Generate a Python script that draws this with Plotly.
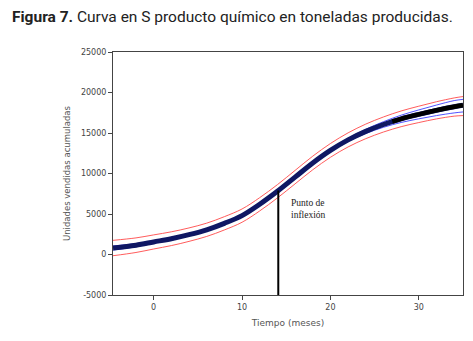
import plotly.graph_objects as go

# Data
months = [-4.6, -2, 0, 2, 4, 6, 8, 10, 12, 14, 16, 18, 20, 22, 24, 26, 28, 30, 32, 34, 35]
fit = [800, 1150, 1550, 1950, 2450, 3050, 3850, 4800, 6200, 7800, 9550, 11300, 12850, 14150, 15200, 16050, 16750, 17300, 17800, 18250, 18440]
pred_hi = [1750, 2050, 2420, 2800, 3280, 3870, 4670, 5620, 7020, 8620, 10380, 12140, 13700, 15020, 16100, 16980, 17720, 18310, 18860, 19330, 19500]
pred_lo = [-150, 250, 680, 1100, 1620, 2230, 3030, 3980, 5380, 6980, 8720, 10460, 12000, 13280, 14300, 15120, 15780, 16290, 16740, 17080, 17150]
ci_hi = [1050, 1350, 1710, 2090, 2580, 3180, 3980, 4930, 6330, 7930, 9680, 11440, 13010, 14350, 15460, 16400, 17200, 17850, 18450, 19000, 19150]
ci_lo = [550, 950, 1390, 1810, 2320, 2920, 3720, 4670, 6070, 7670, 9420, 11160, 12690, 13950, 14940, 15700, 16300, 16750, 17150, 17480, 17600]
obs_x = [27, 28, 30, 32, 34, 35]
obs_y = [16420, 16750, 17300, 17800, 18250, 18440]
infl_x = 14.1
infl_y = 7900
x_ticks = [0, 10, 20, 30]
y_ticks = [-5000, 0, 5000, 10000, 15000, 20000, 25000]
y_tick_labels = ["-5000", "0", "5000", "10000", "15000", "20000", "25000"]

fig = go.Figure()
for ys in (pred_hi, pred_lo):
    fig.add_trace(go.Scatter(x=months, y=ys, mode="lines", line=dict(color="#ff4a4a", width=0.9, shape="spline"), hoverinfo="skip"))
for ys in (ci_hi, ci_lo):
    fig.add_trace(go.Scatter(x=months, y=ys, mode="lines", line=dict(color="#4040ff", width=0.9, shape="spline"), hoverinfo="skip"))
fig.add_trace(go.Scatter(x=months, y=fit, mode="lines", line=dict(color="#0f1763", width=5, shape="spline")))
fig.add_trace(go.Scatter(x=obs_x, y=obs_y, mode="lines", line=dict(color="#000000", width=4.5, shape="spline")))
fig.add_trace(go.Scatter(x=[infl_x, infl_x], y=[-5000, infl_y], mode="lines", line=dict(color="#000000", width=2)))

fig.add_annotation(x=infl_x + 1.25, y=infl_y - 700, text="Punto de<br>inflexión", showarrow=False,
                   xanchor="left", yanchor="top", align="left",
                   font=dict(family="Liberation Serif", size=9.5, color="#222"))

fig.update_layout(
    template="none",
    width=473, height=341,
    margin=dict(l=113, r=10, t=52, b=46),
    paper_bgcolor="white", plot_bgcolor="white",
    showlegend=False,
    title=dict(text="<b>Figura 7.</b> Curva en S producto químico en toneladas producidas.",
               x=12 / 473, xref="container", xanchor="left", y=1 - 17 / 341, yanchor="middle",
               font=dict(family="Roboto", size=15.5, color="#222")),
)
axis_common = dict(showgrid=False, zeroline=False, showline=True, linecolor="#444", linewidth=1,
                   mirror=True, ticks="outside", ticklen=4, tickcolor="#444", automargin=False,
                   tickfont=dict(family="DejaVu Sans", size=8, color="#444"))
fig.update_xaxes(range=[-4.6, 35], tickvals=x_ticks, title=dict(text="Tiempo (meses)", standoff=9,
                 font=dict(family="DejaVu Sans", size=9, color="#555")), **axis_common)
fig.update_yaxes(range=[-5000, 25000], tickvals=y_ticks, ticktext=y_tick_labels,
                 title=dict(text="Unidades vendidas acumuladas", standoff=8,
                            font=dict(family="DejaVu Sans", size=8.5, color="#555")), **axis_common)

fig.write_html("out.html", config={"displayModeBar": False},
               post_script="document.body.style.margin='0';document.body.style.overflow='hidden';")
